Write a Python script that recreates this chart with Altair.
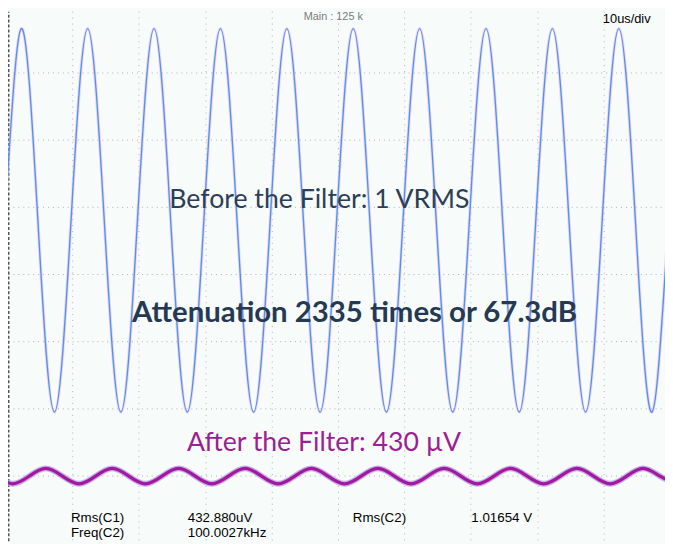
import altair as alt
import pandas as pd

# ---- Channel 2 (before filter, blue) : extremes and mid-crossings (t in us, y in divisions)
blue_peak_t = [2.3, 12.3, 22.3, 32.3, 42.3, 52.3, 62.3, 72.3, 82.3, 92.3, 102.3]
blue_peak_v = [3.66, 3.66, 3.66, 3.66, 3.66, 3.66, 3.66, 3.66, 3.66, 3.66, 3.66]
blue_trough_t = [-2.7, 7.3, 17.3, 27.3, 37.3, 47.3, 57.3, 67.3, 77.3, 87.3, 97.3]
blue_trough_v = [-2.06, -2.06, -2.06, -2.06, -2.06, -2.06, -2.06, -2.06, -2.06, -2.06, -2.06]
blue_cross_t = [-0.2, 4.8, 9.8, 14.8, 19.8, 24.8, 29.8, 34.8, 39.8, 44.8, 49.8,
                54.8, 59.8, 64.8, 69.8, 74.8, 79.8, 84.8, 89.8, 94.8, 99.8]
blue_cross_v = [0.80] * 21

# ---- Channel 1 (after filter, magenta)
mag_peak_t = [-4.0, 6.0, 16.0, 26.0, 36.0, 46.0, 56.0, 66.0, 76.0, 86.0, 96.0]
mag_peak_v = [-2.90, -2.90, -2.90, -2.90, -2.90, -2.90, -2.90, -2.90, -2.90, -2.90, -2.90]
mag_trough_t = [1.0, 11.0, 21.0, 31.0, 41.0, 51.0, 61.0, 71.0, 81.0, 91.0, 101.0]
mag_trough_v = [-3.13, -3.13, -3.13, -3.13, -3.13, -3.13, -3.13, -3.13, -3.13, -3.13, -3.13]
mag_cross_t = [-1.5, 3.5, 8.5, 13.5, 18.5, 23.5, 28.5, 33.5, 38.5, 43.5, 48.5,
               53.5, 58.5, 63.5, 68.5, 73.5, 78.5, 83.5, 88.5, 93.5, 98.5]
mag_cross_v = [-3.015] * 21

# ---- grid divisions
grid_t = [10, 20, 30, 40, 50, 60, 70, 80, 90]
grid_v = [-3, -2, -1, 0, 1, 2, 3]

def trace(ts, vs):
    df = pd.DataFrame({"t": [x for l in ts for x in l], "v": [y for l in vs for y in l]})
    return df.sort_values("t").reset_index(drop=True)

blue = trace([blue_peak_t, blue_trough_t, blue_cross_t], [blue_peak_v, blue_trough_v, blue_cross_v])
mag = trace([mag_peak_t, mag_trough_t, mag_cross_t], [mag_peak_v, mag_trough_v, mag_cross_v])

X = alt.Scale(domain=[0.30, 99.26], nice=False, zero=False)
Y = alt.Scale(domain=[-3.98, 3.92], nice=False, zero=False)

xax = alt.Axis(values=grid_t, grid=True, gridDash=[1, 5], gridColor="#b0b0b0", gridWidth=1,
               labels=False, ticks=False, domain=False, title=None, orient="bottom")
yax = alt.Axis(values=grid_v, grid=True, gridDash=[1, 4], gridColor="#b0b0b0", gridWidth=1,
               labels=False, ticks=False, domain=True, domainColor="#555555",
               domainDash=[3, 2], domainWidth=2, title=None, orient="left")

def enc():
    return dict(x=alt.X("t:Q", scale=X, axis=xax), y=alt.Y("v:Q", scale=Y, axis=yax))

def line(df, color, width, opacity=1.0):
    return alt.Chart(df).mark_line(interpolate="natural", color=color, strokeWidth=width,
                                   opacity=opacity, clip=True).encode(**enc())

layers = [
    line(blue, "#eaa6f0", 3.2, 0.45),
    line(blue, "#4f95ea", 1.4),
    line(mag, "#b99be9", 6, 0.8),
    line(mag, "#a2199e", 3.2),
]

# ---- text annotations
txt_label = ["Main : 125 k", "10us/div", "Before the Filter: 1 VRMS",
             "Attenuation 2335 times or 67.3dB", "After the Filter: 430 µV",
             "Rms(C1)", "432.880uV", "Rms(C2)", "1.01654 V", "Freq(C2)", "100.0027kHz"]
txt_t = [49.3, 89.9, 47.2, 52.5, 47.9, 9.78, 27.38, 52.23, 70.09, 9.78, 27.38]
txt_v = [3.783, 3.746, 0.99, -0.71, -2.64, -3.70, -3.70, -3.70, -3.70, -3.925, -3.925]
txt_size = [11, 13, 27, 29.7, 27, 13.5, 13.5, 13.5, 13.5, 13.5, 13.5]
txt_weight = ["normal", "normal", "normal", "bold", "normal",
              "normal", "normal", "normal", "normal", "normal", "normal"]
txt_color = ["#7a7a7a", "#000000", "#2c3f56", "#253a52", "#9d1f91",
             "#000000", "#000000", "#000000", "#000000", "#000000", "#000000"]
txt_font = ["Liberation Sans", "Liberation Sans", "Lato", "Lato", "Lato",
            "Liberation Sans", "Liberation Sans", "Liberation Sans", "Liberation Sans",
            "Liberation Sans", "Liberation Sans"]
txt_align = ["center", "left", "center", "center", "center",
             "left", "left", "left", "left", "left", "left"]

for i in range(len(txt_label)):
    d = pd.DataFrame({"t": [txt_t[i]], "v": [txt_v[i]], "label": [txt_label[i]]})
    layers.append(
        alt.Chart(d).mark_text(font=txt_font[i], fontSize=txt_size[i], fontWeight=txt_weight[i],
                               color=txt_color[i], align=txt_align[i], baseline="alphabetic").encode(
            text="label:N", **enc()
        )
    )

chart = alt.layer(*layers).properties(
    width=665, height=536, padding=0, autosize=alt.AutoSizeParams(type="none"),
    background="#f7fcfa",
).configure_view(stroke=None, fill="#f7fcfa")

chart.save("out.html", embed_options={"renderer": "svg", "actions": False})
